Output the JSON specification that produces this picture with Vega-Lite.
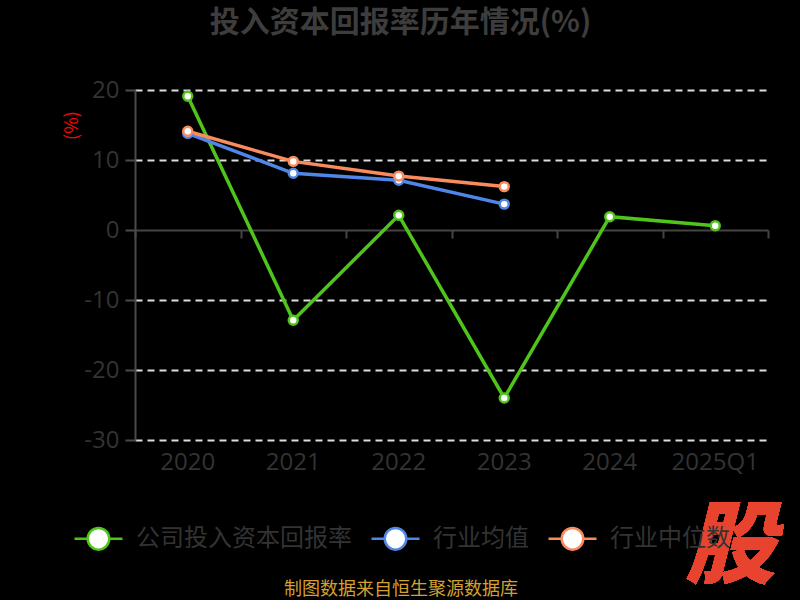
{
  "$schema": "https://vega.github.io/schema/vega-lite/v6.json",
  "width": 633,
  "height": 350,
  "autosize": {"type": "none"},
  "padding": {"left": 135, "top": 90, "right": 32, "bottom": 160},
  "background": "#000000",
  "config": {"view": {"stroke": null}, "font": "Noto Sans CJK SC"},
  "title": {
    "text": "投入资本回报率历年情况(%)",
    "fontSize": 30,
    "fontWeight": "bold",
    "color": "#3d3d3d",
    "offset": 40,
    "anchor": "middle",
    "dx": -51
  },
  "data": {
    "values": [
      {"year": "2020", "series": "公司投入资本回报率", "value": 19.1},
      {"year": "2021", "series": "公司投入资本回报率", "value": -12.9},
      {"year": "2022", "series": "公司投入资本回报率", "value": 2.1},
      {"year": "2023", "series": "公司投入资本回报率", "value": -24.0},
      {"year": "2024", "series": "公司投入资本回报率", "value": 1.9},
      {"year": "2025Q1", "series": "公司投入资本回报率", "value": 0.6},
      {"year": "2020", "series": "行业均值", "value": 13.8},
      {"year": "2021", "series": "行业均值", "value": 8.1},
      {"year": "2022", "series": "行业均值", "value": 7.1},
      {"year": "2023", "series": "行业均值", "value": 3.7},
      {"year": "2020", "series": "行业中位数", "value": 14.1},
      {"year": "2021", "series": "行业中位数", "value": 9.8},
      {"year": "2022", "series": "行业中位数", "value": 7.7},
      {"year": "2023", "series": "行业中位数", "value": 6.2}
    ]
  },
  "layer": [
    {
      "mark": {"type": "point", "opacity": 0},
      "encoding": {
        "x": {
          "field": "year",
          "type": "nominal",
          "sort": ["2020", "2021", "2022", "2023", "2024", "2025Q1"],
          "scale": {"type": "band", "paddingInner": 0, "paddingOuter": 0, "domain": ["2020", "2021", "2022", "2023", "2024", "2025Q1"]},
          "axis": {
            "orient": "bottom",
            "offset": -210,
            "labels": false,
            "ticks": true,
            "tickBand": "extent",
            "tickSize": 8,
            "tickWidth": 2,
            "tickColor": "#444444",
            "domainColor": "#444444",
            "domainWidth": 2,
            "title": null,
            "grid": false,
            "zindex": 0
          }
        },
        "y": {
          "field": "value",
          "type": "quantitative",
          "scale": {"domain": [-30, 20], "nice": false, "zero": false},
          "axis": {
            "values": [-30, -20, -10, 0, 10, 20],
            "labelExpr": "replace(datum.label, '−', '-')",
            "labelFontSize": 24,
            "labelFont": "Open Sans",
            "labelColor": "#333333",
            "labelPadding": 6,
            "domainColor": "#4a4a4a",
            "domainWidth": 2,
            "tickColor": "#4a4a4a",
            "tickSize": 10,
            "tickWidth": 2,
            "gridColor": "#dddddd",
            "gridDash": [7, 5],
            "gridWidth": 2,
            "gridOpacity": {"condition": {"test": "datum.value === 0", "value": 0}, "value": 1},
            "title": "(%)",
            "titleColor": "#ff0000",
            "titleFontSize": 18,
            "titleFontWeight": "normal",
            "titleX": -63,
            "titleY": 35,
            "titleAlign": "center",
            "titleBaseline": "middle",
            "titleAngle": -90,
            "zindex": 0
          }
        }
      }
    },
    {
      "mark": {
        "type": "line",
        "strokeWidth": 3.5,
        "point": {"filled": false, "fill": "white", "size": 80, "strokeWidth": 2.5}
      },
      "encoding": {
        "x": {
          "field": "year",
          "type": "nominal",
          "sort": ["2020", "2021", "2022", "2023", "2024", "2025Q1"],
          "axis": {
            "orient": "bottom",
            "domain": false,
            "ticks": false,
            "grid": false,
            "labelFontSize": 24,
            "labelFont": "Open Sans",
            "labelColor": "#333333",
            "labelPadding": 10,
            "labelAngle": 0,
            "title": null
          }
        },
        "y": {"field": "value", "type": "quantitative"},
        "color": {
          "field": "series",
          "type": "nominal",
          "sort": null,
          "scale": {
            "domain": ["公司投入资本回报率", "行业均值", "行业中位数"],
            "range": ["#4fc41a", "#4f86e8", "#f98b5d"]
          },
          "legend": {
            "orient": "none",
            "legendX": -62,
            "legendY": 423,
            "direction": "horizontal",
            "title": "制图数据来自恒生聚源数据库",
            "titleOrient": "bottom",
            "titleAnchor": "middle",
            "titleColor": "#d4a030",
            "titleFontSize": 18,
            "titleFontWeight": "normal",
            "titlePadding": 26,
            "titleLimit": 800,
            "labelFontSize": 24,
            "labelColor": "#333333",
            "labelOffset": 12,
            "labelLimit": 500,
            "columnPadding": 14,
            "symbolType": "M -1 0 L -0.45 0 M 0.45 0 L 1 0 M -0.45 0 A 0.45 0.45 0 1 1 0.45 0 A 0.45 0.45 0 1 1 -0.45 0 Z",
            "symbolSize": 2304,
            "symbolStrokeWidth": 2.5,
            "symbolFillColor": "white"
          }
        }
      }
    },
    {
      "mark": {
        "type": "text",
        "text": "股",
        "fontSize": 90,
        "fontWeight": 900,
        "fontStyle": "italic",
        "color": "#e8432e",
        "align": "center",
        "baseline": "middle",
        "dx": 15,
        "clip": false
      },
      "encoding": {
        "x": {"datum": "2025Q1", "type": "nominal", "axis": null},
        "y": {"datum": -45.5, "type": "quantitative"}
      }
    }
  ],
  "resolve": {"axis": {"x": "independent"}}
}
